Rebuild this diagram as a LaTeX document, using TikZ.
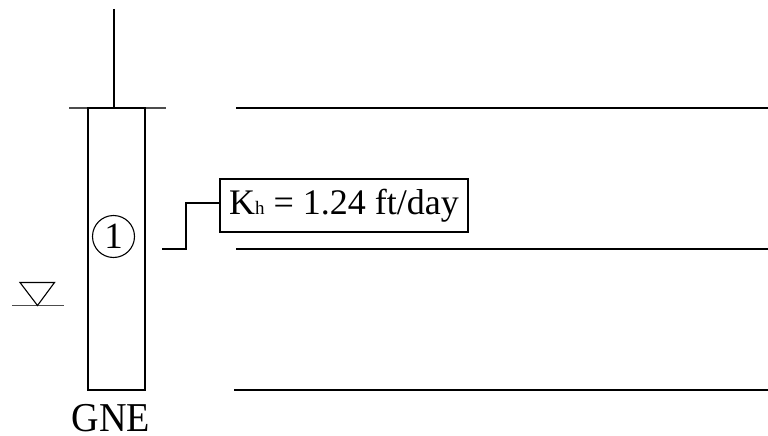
\documentclass[tikz,border=0pt]{standalone}
\usepackage{graphicx}
\usepackage{fontspec}
\setmainfont{Liberation Serif}
\tikzset{
  x=1pt,y=-1pt,
  heavy/.style={draw=black,line width=2pt},
  thin line/.style={draw=black!70,line width=1.2pt},
  big/.style={font=\fontsize{41}{41}\selectfont,inner sep=0pt},
  mid/.style={font=\fontsize{36}{36}\selectfont,inner sep=0pt}
}
\begin{document}
\begin{tikzpicture}
\useasboundingbox (0,0) rectangle (768,436);
% ground line at top of casing
\coordinate (gl) at (69,108); \coordinate (gr) at (166,108);
\draw[thin line] (gl) -- (gr);
% well casing
\node[heavy,minimum width=57pt,minimum height=282pt,inner sep=0pt,anchor=north west,outer sep=0pt] (casing) at (88,108) {};
\coordinate (stemtop) at (114,9);
\draw[heavy] (stemtop) -- (stemtop |- casing.north);
% layer lines
\coordinate (a1) at (236,108); \coordinate (a2) at (768,108);
\coordinate (b1) at (236,249); \coordinate (b2) at (768,249);
\coordinate (c1) at (234,390); \coordinate (c2) at (768,390);
\draw[heavy] (a1) -- (a2);
\draw[heavy] (b1) -- (b2);
\draw[heavy] (c1) -- (c2);
% circled number
\node[circle,draw=black,line width=1.1pt,minimum size=42pt,inner sep=0pt,font=\fontsize{37}{37}\selectfont] (one) at (113.5,236.5) {1};
% callout
\node[draw=black,line width=1.4pt,minimum width=248pt,minimum height=53pt,inner sep=0pt,anchor=north west,outer sep=0pt] (box) at (220,179) {};
\node[mid,anchor=base west] (kh) at (229,214) {K\fontsize{19}{19}\selectfont h\fontsize{36}{36}\selectfont{} = 1.24 ft/day};
\coordinate (lead) at (162,249);
\draw[heavy] (lead) -- (186,249) -- (186,203) -- (box.west |- 0,203);
% water table
\coordinate (w1) at (12,305.5); \coordinate (w2) at (64,305.5);
\draw[thin line] (w1) -- (w2);
\coordinate (t1) at (20,282.5); \coordinate (t2) at (54.5,282.5); \coordinate (t3) at (37.5,305.5);
\draw[draw=black,line width=1.1pt,line join=miter] (t1) -- (t2) -- (t3) -- cycle;
% label
\node[big,anchor=base] (gne) at (111,431) {\scalebox{0.93}[1]{GNE}};
\end{tikzpicture}
\end{document}
